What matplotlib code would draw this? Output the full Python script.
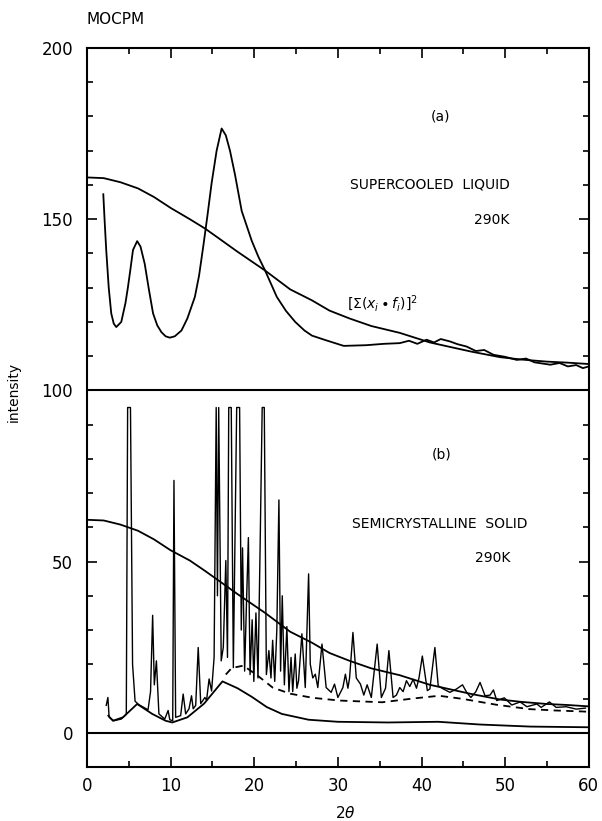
import matplotlib.pyplot as plt
from matplotlib.ticker import MultipleLocator

plt.rcParams['font.family'] = ['DejaVu Sans']
plt.rcParams['mathtext.fontset'] = 'dejavusans'

# (a) supercooled liquid, measured pattern (offset by 100)
liq_x = [1.95, 2.1, 2.3, 2.6, 2.9, 3.2, 3.5, 4.1, 4.6, 4.9, 5.2, 5.5, 6.0, 6.4,
         6.9, 7.4, 7.9, 8.4, 8.9, 9.4, 9.9, 10.5, 11.3, 12.0, 12.5, 12.9, 13.4,
         13.9, 14.4, 14.9, 15.5, 16.1, 16.6, 17.1, 17.7, 18.5, 19.7, 20.5, 21.3,
         22.7, 23.8, 24.9, 26.0, 26.9, 28.5, 30.7, 33.4, 35.5, 37.4, 38.5, 39.5,
         40.6, 41.5, 42.3, 43.4, 44.3, 45.4, 46.5, 47.5, 48.6, 50.0, 51.4, 52.5,
         53.5, 55.4, 56.5, 57.5, 58.5, 59.3, 60.0]
liq_y = [157.3, 150.0, 141.0, 130.0, 122.5, 119.5, 118.5, 120.0, 125.5, 130.2,
         135.5, 141.0, 143.6, 142.0, 137.0, 129.5, 122.5, 119.0, 117.0, 115.8,
         115.4, 115.8, 117.5, 121.0, 124.5, 127.3, 133.5, 142.0, 151.0, 160.5,
         170.0, 176.5, 174.5, 170.0, 163.0, 152.4, 143.7, 139.0, 135.0, 127.3,
         123.2, 120.0, 117.5, 116.0, 114.7, 113.0, 113.2, 113.6, 113.8, 114.5,
         113.6, 114.8, 114.0, 115.0, 114.3, 113.5, 112.8, 111.5, 111.8, 110.4,
         109.8, 108.9, 109.3, 108.2, 107.5, 108.0, 107.0, 107.4, 106.5, 107.0]

# [sum(x_i f_i)]^2 form-factor curve, both panels
form_x = [0.0, 2.0, 4.0, 6.1, 8.0, 10.0, 12.3, 14.1, 16.0, 18.0, 21.3, 24.3,
          26.9, 29.0, 31.4, 34.0, 37.4, 41.0, 43.4, 46.0, 49.4, 52.0, 55.0, 57.5, 60.0]
form_a = [162.2, 162.0, 160.8, 159.0, 156.5, 153.3, 150.0, 147.3, 144.0, 140.5,
          135.0, 129.5, 126.3, 123.3, 121.0, 118.8, 116.8, 114.0, 112.7, 111.3,
          109.7, 109.0, 108.4, 108.1, 107.7]
form_b = [62.2, 62.0, 60.8, 59.0, 56.5, 53.3, 50.3, 47.3, 44.0, 40.5,
          35.0, 29.5, 26.3, 23.3, 21.0, 18.8, 16.8, 14.0, 12.7, 11.3,
          9.7, 9.0, 8.4, 8.1, 7.7]

# (b) semicrystalline solid, measured pattern
cry_x = [2.3, 2.5, 2.65, 3.2, 4.1, 4.7, 4.86, 5.2, 5.45, 5.75, 6.2, 7.3, 7.6, 7.85,
         8.05, 8.3, 8.6, 9.3, 9.7, 9.9, 10.25, 10.4, 10.6, 11.2, 11.5, 11.8, 12.2,
         12.5, 12.7, 13.0, 13.3, 13.6, 14.1, 14.3, 14.6, 14.9, 15.2, 15.45, 15.6,
         15.75, 16.05, 16.3, 16.6, 16.8, 16.95, 17.25, 17.5, 17.9, 18.25, 18.45,
         18.6, 18.85, 19.05, 19.3, 19.5, 19.75, 19.95, 20.2, 20.45, 20.7, 20.95,
         21.2, 21.45, 21.75, 22.0, 22.2, 22.45, 22.7, 22.95, 23.15, 23.35, 23.6,
         23.9, 24.15, 24.4, 24.6, 24.9, 25.1, 25.3, 25.7, 26.1, 26.5, 26.7, 27.0,
         27.3, 27.6, 28.1, 28.6, 29.2, 29.6, 30.0, 30.6, 30.9, 31.2, 31.4, 31.8,
         32.2, 32.7, 33.1, 33.5, 34.0, 34.7, 35.2, 35.7, 36.1, 36.6, 37.0, 37.4,
         37.8, 38.2, 38.6, 39.0, 39.4, 39.7, 40.1, 40.7, 41.0, 41.6, 42.0, 42.6,
         43.4, 44.2, 44.9, 45.4, 45.9, 46.5, 47.0, 47.6, 48.2, 48.6, 49.0, 49.9,
         50.8, 51.8, 52.6, 53.8, 54.3, 55.3, 56.1, 57.3, 58.5, 59.6]
cry_y = [8.0, 10.3, 4.5, 3.5, 4.0, 5.4, 95.0, 95.0, 20.0, 9.2, 8.2, 6.7, 12.0, 34.3,
         14.0, 21.0, 5.5, 4.0, 6.5, 3.8, 3.5, 73.7, 4.5, 5.0, 11.3, 5.5, 7.0,
         10.8, 7.0, 8.0, 24.9, 8.5, 10.3, 9.5, 15.7, 12.2, 22.0, 95.0, 40.0,
         95.0, 21.0, 25.0, 50.3, 22.0, 95.0, 95.0, 19.0, 95.0, 95.0, 30.0,
         54.0, 18.0, 36.0, 57.0, 17.0, 33.0, 15.0, 35.0, 16.0, 54.0, 95.0,
         95.0, 17.0, 24.0, 16.0, 27.0, 15.0, 30.0, 68.0, 18.0, 40.0, 14.0,
         31.0, 12.0, 22.0, 12.0, 23.0, 13.0, 15.2, 28.9, 13.2, 46.4, 20.0, 16.0,
         17.1, 13.2, 25.9, 13.2, 11.8, 14.2, 10.3, 13.2, 17.1, 13.0, 16.0, 29.3,
         16.0, 14.2, 11.0, 14.0, 10.3, 25.9, 10.3, 13.0, 24.0, 10.3, 11.0, 13.2,
         12.0, 15.2, 13.5, 15.6, 13.0, 16.0, 22.4, 12.3, 12.8, 24.9, 13.7, 12.8,
         11.8, 12.8, 14.0, 11.8, 10.3, 12.0, 14.7, 10.8, 11.0, 12.5, 9.4, 10.2,
         8.1, 9.0, 7.6, 8.4, 7.4, 9.0, 7.4, 7.6, 6.9, 7.2]

# amorphous contribution (solid) and total background (dashed)
amo_x = [2.55, 3.1, 4.3, 6.0, 7.8, 9.4, 10.2, 12.0, 14.0, 16.2, 18.0, 19.7, 21.5,
         23.3, 26.5, 30.0, 36.0, 42.0, 47.0, 53.0, 60.0]
amo_y = [5.0, 3.5, 4.5, 8.4, 5.5, 3.5, 3.0, 4.5, 8.5, 15.0, 13.0, 10.5, 7.5,
         5.5, 3.8, 3.2, 3.0, 3.2, 2.4, 1.8, 1.6]
bg_x = [16.6, 17.3, 18.7, 20.5, 22.2, 24.3, 27.0, 30.2, 35.3, 39.0, 42.1, 44.9,
        48.9, 52.9, 56.0, 59.4, 60.0]
bg_y = [17.0, 18.9, 19.6, 16.5, 13.2, 11.4, 10.2, 9.4, 8.9, 10.0, 10.8, 9.9,
        8.2, 6.9, 6.5, 6.2, 6.1]

fig = plt.figure(figsize=(6.02, 8.21), dpi=100)
ax = fig.add_axes([0.1445, 0.0658, 0.8335, 0.8757])

lw = 1.3
ax.plot(liq_x, liq_y, color='black', lw=lw)
ax.plot(form_x, form_a, color='black', lw=lw)
ax.plot(form_x, form_b, color='black', lw=lw)
ax.plot(cry_x, cry_y, color='black', lw=1.0)
ax.plot(amo_x, amo_y, color='black', lw=lw)
ax.plot(bg_x, bg_y, color='black', lw=lw, linestyle=(0, (4, 3)))
ax.axhline(100, color='black', lw=1.5)
ax.axhline(0, color='black', lw=1.5)

ax.set_xlim(0, 60)
ax.set_ylim(-10, 200)
ax.xaxis.set_major_locator(MultipleLocator(10))
ax.xaxis.set_minor_locator(MultipleLocator(5))
ax.yaxis.set_major_locator(MultipleLocator(50))
ax.yaxis.set_minor_locator(MultipleLocator(10))
ax.tick_params(which='both', direction='in', top=True, right=True,
               labelsize=12, width=1.2)
ax.tick_params(which='major', length=7)
ax.tick_params(which='minor', length=4)
ax.tick_params(axis='y', pad=10)
ax.tick_params(axis='x', pad=7)
for s in ax.spines.values():
    s.set_linewidth(1.5)

ax.text(42.3, 180, '(a)', fontsize=10, ha='center', va='center')
ax.text(41.0, 160, 'SUPERCOOLED  LIQUID', fontsize=10, ha='center', va='center')
ax.text(48.4, 149.7, '290K', fontsize=10, ha='center', va='center')
ax.text(31.1, 125.4, r'$[\Sigma(x_i\bullet f_i)]^2$', fontsize=10,
        ha='left', va='center')
ax.text(42.4, 81.3, '(b)', fontsize=10, ha='center', va='center')
ax.text(42.2, 61.0, 'SEMICRYSTALLINE  SOLID', fontsize=10, ha='center', va='center')
ax.text(48.5, 50.9, '290K', fontsize=10, ha='center', va='center')

fig.text(87 / 602, 1 - 19 / 821, 'MOCPM', fontsize=11, ha='left', va='center')
fig.text(14 / 602, 1 - 392 / 821, 'intensity', fontsize=10, rotation=90,
         ha='center', va='center')
fig.text(345 / 602, 1 - 813 / 821, r'$2\theta$', fontsize=11, ha='center',
         va='center')

fig.savefig('out.png', dpi=100)
